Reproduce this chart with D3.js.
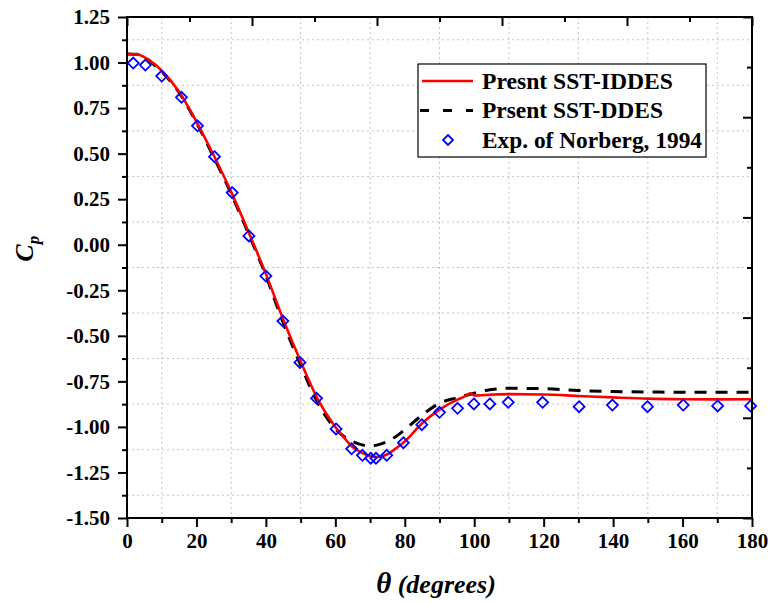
<!DOCTYPE html>
<html>
<head>
<meta charset="utf-8">
<script src="https://cdn.jsdelivr.net/npm/d3@7"></script>
<style>
body { margin: 0; background: #fff; }
svg { display: block; }
</style>
</head>
<body>
<svg id="chart"></svg>
<script>
// present SST-IDDES
let iddesTheta = [0, 3, 5, 8, 10, 15, 20, 25, 30, 35, 40, 45, 50, 55, 60, 63, 65, 68, 70, 72, 75, 78, 80, 85, 90, 95, 97, 99, 100, 105, 110, 120, 130, 140, 150, 160, 170, 180]
let iddesCp = [1.047, 1.045, 1.03, 0.99, 0.955, 0.84, 0.675, 0.49, 0.29, 0.07, -0.16, -0.41, -0.64, -0.85, -1.0, -1.07, -1.11, -1.145, -1.16, -1.165, -1.15, -1.11, -1.08, -0.98, -0.905, -0.852, -0.835, -0.815, -0.828, -0.823, -0.82, -0.822, -0.83, -0.838, -0.845, -0.848, -0.849, -0.848]
// present SST-DDES
let ddesTheta = [0, 3, 5, 8, 10, 15, 20, 25, 30, 35, 40, 45, 50, 55, 60, 63, 65, 68, 70, 72, 75, 78, 80, 85, 90, 95, 100, 105, 110, 120, 130, 140, 150, 160, 170, 180]
let ddesCp = [1.047, 1.045, 1.03, 0.985, 0.95, 0.835, 0.67, 0.48, 0.28, 0.06, -0.17, -0.43, -0.66, -0.87, -1.01, -1.06, -1.08, -1.10, -1.105, -1.10, -1.08, -1.045, -1.015, -0.935, -0.87, -0.84, -0.815, -0.795, -0.788, -0.79, -0.80, -0.806, -0.808, -0.81, -0.81, -0.81]
// Norberg 1994 experiment
let expTheta = [1.8, 5.3, 10, 15.7, 20.3, 25.2, 30.3, 35.1, 40, 44.9, 49.8, 54.6, 60.2, 64.7, 67.8, 70.2, 71.7, 74.8, 79.6, 84.9, 90, 95.2, 99.9, 104.5, 109.8, 119.7, 130.2, 139.8, 149.9, 160.2, 170.1, 179.6]
let expCp = [0.997, 0.986, 0.926, 0.809, 0.653, 0.483, 0.286, 0.048, -0.172, -0.419, -0.646, -0.843, -1.011, -1.12, -1.156, -1.172, -1.172, -1.156, -1.087, -0.988, -0.92, -0.898, -0.874, -0.874, -0.865, -0.865, -0.889, -0.88, -0.889, -0.88, -0.885, -0.885]

let xTicks = d3.range(0, 181, 20)
let yTicks = d3.range(-1.5, 1.26, 0.25)
let seriesNames = ["Presnt SST-IDDES", "Prsent SST-DDES", "Exp. of Norberg, 1994"]

let font = "'Liberation Serif', 'Times New Roman', serif"

function getConfig(){
    let width = 768, height = 602
    let margin = {top: 17, left: 127, right: 16, bottom: 84}
    let bodyWidth = width - margin.left - margin.right
    let bodyHeight = height - margin.top - margin.bottom
    let container = d3.select("#chart").attr("width", width).attr("height", height)
    return {width, height, margin, bodyWidth, bodyHeight, container}
}

function getScales(config){
    let xScale = d3.scaleLinear().domain([0, 180]).range([0, config.bodyWidth])
    let yScale = d3.scaleLinear().domain([-1.5, 1.25]).range([config.bodyHeight, 0])
    return {xScale, yScale}
}

function drawGrid(scales, config){
    let {xScale, yScale} = scales
    let {margin, container, bodyWidth, bodyHeight} = config
    let g = container.append("g").attr("transform", `translate(${margin.left},${margin.top})`)
    let vx = d3.range(10, 180, 20)
    let hy = d3.range(-1.375, 1.25, 0.25)
    g.selectAll(".vg").data(vx).enter().append("line")
        .attr("x1", d => xScale(d)).attr("x2", d => xScale(d))
        .attr("y1", 0).attr("y2", bodyHeight)
        .style("stroke", "#c4c4c4").style("stroke-dasharray", "2,3")
    g.selectAll(".hg").data(hy).enter().append("line")
        .attr("y1", d => yScale(d)).attr("y2", d => yScale(d))
        .attr("x1", 0).attr("x2", bodyWidth)
        .style("stroke", "#c4c4c4").style("stroke-dasharray", "2,3")
}

function styleAxis(g){
    g.select(".domain").remove()
    g.selectAll("line").style("stroke", "#000").style("stroke-width", 2)
    g.selectAll("text").style("font-family", font)
        .style("font-weight", "bold").style("font-size", "21px").style("fill", "#000")
}

function drawAxes(scales, config){
    let {xScale, yScale} = scales
    let {margin, container, bodyWidth, bodyHeight} = config
    let tr = (x, y) => `translate(${margin.left + x},${margin.top + y})`
    let yFmt = d => d3.format(".2f")(d).replace("\u2212", "-")

    // bottom: outward ticks
    container.append("g").attr("transform", tr(0, bodyHeight))
        .call(d3.axisBottom(xScale).tickValues(xTicks).tickSize(9).tickPadding(6).tickFormat(d3.format("d")))
        .call(styleAxis)
    container.append("g").attr("transform", tr(0, bodyHeight))
        .call(d3.axisBottom(xScale).tickValues(d3.range(10, 180, 20)).tickSize(5).tickFormat(""))
        .call(styleAxis)

    // left: outward ticks
    container.append("g").attr("transform", tr(0, 0))
        .call(d3.axisLeft(yScale).tickValues(yTicks).tickSize(9).tickPadding(8).tickFormat(yFmt))
        .call(styleAxis)
    container.append("g").attr("transform", tr(0, 0))
        .call(d3.axisLeft(yScale).tickValues(d3.range(-1.375, 1.25, 0.25)).tickSize(5).tickFormat(""))
        .call(styleAxis)

    // top: inward ticks on its own division
    let topVals = d3.range(0, 181, 18)
    container.append("g").attr("transform", tr(0, 0))
        .call(d3.axisBottom(xScale).tickValues(topVals.filter((d, i) => i % 2 == 0)).tickSize(9).tickFormat(""))
        .call(styleAxis)
    container.append("g").attr("transform", tr(0, 0))
        .call(d3.axisBottom(xScale).tickValues(topVals.filter((d, i) => i % 2 == 1)).tickSize(5).tickFormat(""))
        .call(styleAxis)

    // right: inward ticks
    let rightVals = d3.range(0, 11).map(k => -1.5 + k * 0.275)
    container.append("g").attr("transform", tr(bodyWidth, 0))
        .call(d3.axisLeft(yScale).tickValues(rightVals.filter((d, i) => i % 2 == 0)).tickSize(9).tickFormat(""))
        .call(styleAxis)
    container.append("g").attr("transform", tr(bodyWidth, 0))
        .call(d3.axisLeft(yScale).tickValues(rightVals.filter((d, i) => i % 2 == 1)).tickSize(5).tickFormat(""))
        .call(styleAxis)

    // frame
    container.append("rect")
        .attr("x", margin.left).attr("y", margin.top)
        .attr("width", bodyWidth).attr("height", bodyHeight)
        .style("fill", "none").style("stroke", "#000").style("stroke-width", 2)

    // axis titles
    let xt = container.append("text")
        .attr("x", 436).attr("y", 593)
        .attr("text-anchor", "middle")
        .style("font-family", font).style("font-weight", "bold").style("font-style", "italic")
        .style("font-size", "26px")
    xt.append("tspan").text("θ").style("font-size", "29px")
    xt.append("tspan").text(" (degrees)")

    let yt = container.append("text")
        .attr("transform", `translate(33,${margin.top + yScale(0) + 4}) rotate(-90)`)
        .attr("text-anchor", "middle")
        .style("font-family", font).style("font-weight", "bold").style("font-style", "italic")
        .style("font-size", "26px")
    yt.append("tspan").text("C")
    yt.append("tspan").text("p").attr("dy", 6).style("font-size", "17px")
}

function diamond(sel, size){
    sel.attr("d", `M0,${-size}L${size},0L0,${size}L${-size},0Z`)
        .style("fill", "none").style("stroke", "#0000ff").style("stroke-width", 1.8)
}

function drawSeries(scales, config){
    let {xScale, yScale} = scales
    let {margin, container} = config
    let body = container.append("g").attr("transform", `translate(${margin.left},${margin.top})`)

    let line = d3.line().x(d => xScale(d[0])).y(d => yScale(d[1])).curve(d3.curveMonotoneX)
    let ddes = ddesTheta.map((t, i) => [t, ddesCp[i]])
    let iddes = iddesTheta.map((t, i) => [t, iddesCp[i]])

    body.append("path").datum(ddes).attr("d", line)
        .style("fill", "none").style("stroke", "#000").style("stroke-width", 3)
        .style("stroke-dasharray", "12,9")
    body.append("path").datum(iddes).attr("d", line)
        .style("fill", "none").style("stroke", "#ff0000").style("stroke-width", 2.6)

    body.selectAll(".pt").data(expTheta).enter().append("path")
        .attr("transform", (d, i) => `translate(${xScale(d)},${yScale(expCp[i])})`)
        .call(diamond, 5.5)
}

function drawLegend(config){
    let {container} = config
    let g = container.append("g")
    g.append("rect").attr("x", 418).attr("y", 64).attr("width", 288).attr("height", 93)
        .style("fill", "#fff").style("stroke", "#000").style("stroke-width", 1.2)
    let rows = [81, 110.5, 140]
    let textWidths = [191, 181, 220]
    g.append("line").attr("x1", 422).attr("x2", 473).attr("y1", rows[0]).attr("y2", rows[0])
        .style("stroke", "#ff0000").style("stroke-width", 2.6)
    g.append("line").attr("x1", 420).attr("x2", 473).attr("y1", rows[1]).attr("y2", rows[1])
        .style("stroke", "#000").style("stroke-width", 3).style("stroke-dasharray", "9,14")
    g.append("path").attr("transform", `translate(448,${rows[2]})`).call(diamond, 5)
    g.selectAll(".lt").data(seriesNames).enter().append("text")
        .attr("x", 482).attr("y", (d, i) => rows[i] + 7.5)
        .attr("textLength", (d, i) => textWidths[i])
        .attr("lengthAdjust", "spacingAndGlyphs")
        .text(d => d)
        .style("font-family", font)
        .style("font-weight", "bold").style("font-size", "23px")
}

let config = getConfig()
let scales = getScales(config)
drawGrid(scales, config)
drawSeries(scales, config)
drawAxes(scales, config)
drawLegend(config)
</script>
</body>
</html>
